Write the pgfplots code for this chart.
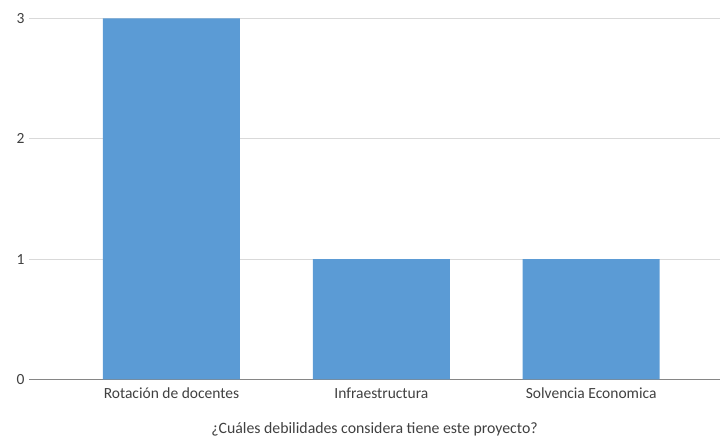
\documentclass[border=0pt]{standalone}
\usepackage{fontspec}
\setmainfont{Carlito}
\usepackage{pgfplots}
\pgfplotsset{compat=1.18}
\definecolor{barblue}{HTML}{5B9BD5}
\definecolor{gridgray}{HTML}{D9D9D9}
\definecolor{axgray}{HTML}{868686}
\definecolor{txtgray}{HTML}{404040}
\begin{document}
\begin{tikzpicture}[x=1pt,y=1pt]
\useasboundingbox (-29pt,-61.5pt) rectangle (691pt,379.5pt);
\begin{axis}[
  at={(0,0)}, anchor=south west,
  scale only axis,
  width=691pt, height=361pt,
  xmin=-0.679, xmax=2.614,
  ymin=0, ymax=3,
  ytick={0,1,2,3},
  xtick={0,1,2},
  xticklabels={Rotación de docentes,Infraestructura,Solvencia Economica},
  ymajorgrids,
  grid style={gridgray, line width=1pt},
  axis line style={draw=none},
  tick style={draw=none},
  axis x line*=bottom,
  axis y line*=left,
  y axis line style={draw=none},
  x axis line style={draw=axgray, line width=1.3pt},
  /pgf/number format/assume math mode=true,
  tick label style={font=\fontsize{15.5}{18}\selectfont, text=txtgray},
  yticklabel style={xshift=-1pt},
  xticklabel style={yshift=-5pt},
  xlabel={¿Cuáles debilidades considera tiene este proyecto?},
  xlabel style={font=\fontsize{15.8}{18}\selectfont, text=txtgray, yshift=-17pt},
  clip=false,
]
\addplot[ybar, bar width=137pt, fill=barblue, draw=none] coordinates {(0,3) (1,1) (2,1)};
\end{axis}
\end{tikzpicture}
\end{document}
